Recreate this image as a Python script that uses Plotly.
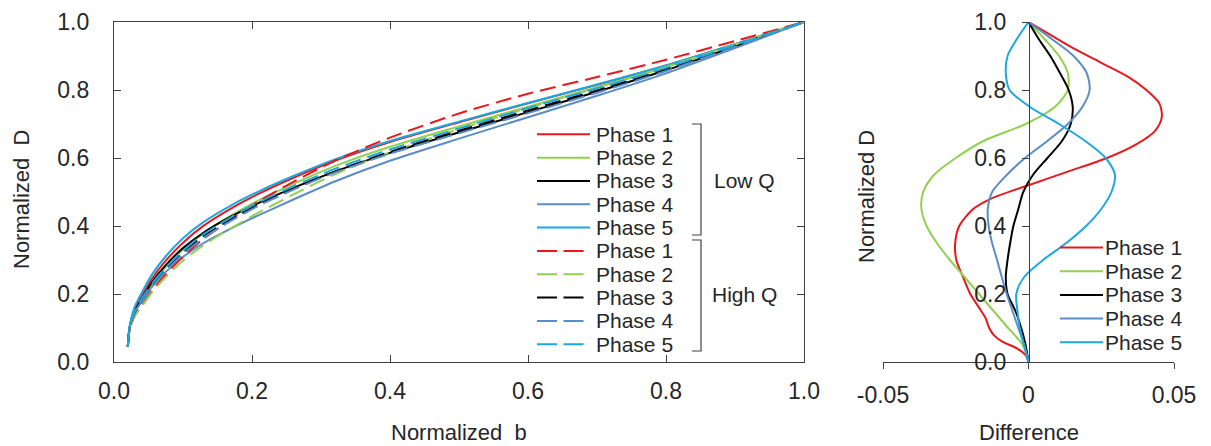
import plotly.graph_objects as go

# ---------------- data ----------------
phases = ["Phase 1", "Phase 2", "Phase 3", "Phase 4", "Phase 5"]
colors = ["#E8191E", "#92D050", "#000000", "#5A8CC6", "#1BA8E0"]

# Left panel: Normalized b (x) vs Normalized D (y)
b_grid = [0.020, 0.023, 0.030, 0.040, 0.055, 0.075, 0.10, 0.13, 0.17, 0.21,
          0.26, 0.32, 0.40, 0.50, 0.60, 0.70, 0.80, 0.90, 1.00]

lowq_D = [
    [0.045, 0.105, 0.155, 0.193, 0.245, 0.298, 0.351, 0.401, 0.452, 0.495, 0.542, 0.592, 0.647, 0.705, 0.761, 0.815, 0.872, 0.935, 1.0],  # Phase 1
    [0.045, 0.105, 0.147, 0.180, 0.229, 0.279, 0.330, 0.379, 0.431, 0.476, 0.524, 0.576, 0.633, 0.693, 0.751, 0.808, 0.867, 0.933, 1.0],  # Phase 2
    [0.045, 0.105, 0.150, 0.185, 0.235, 0.285, 0.335, 0.381, 0.428, 0.468, 0.512, 0.560, 0.615, 0.675, 0.735, 0.795, 0.858, 0.928, 1.0],  # Phase 3
    [0.045, 0.105, 0.146, 0.177, 0.221, 0.265, 0.309, 0.350, 0.393, 0.432, 0.478, 0.531, 0.592, 0.657, 0.720, 0.783, 0.849, 0.923, 1.0],  # Phase 4
    [0.045, 0.110, 0.162, 0.203, 0.257, 0.311, 0.364, 0.412, 0.461, 0.502, 0.547, 0.596, 0.650, 0.707, 0.762, 0.816, 0.872, 0.935, 1.0],  # Phase 5
]
highq_D = [
    [0.045, 0.100, 0.135, 0.165, 0.210, 0.258, 0.310, 0.363, 0.420, 0.473, 0.530, 0.592, 0.660, 0.731, 0.789, 0.838, 0.889, 0.944, 1.0],  # Phase 1
    [0.045, 0.100, 0.135, 0.163, 0.205, 0.250, 0.298, 0.344, 0.394, 0.440, 0.493, 0.552, 0.617, 0.685, 0.747, 0.807, 0.868, 0.934, 1.0],  # Phase 2
    [0.045, 0.105, 0.145, 0.177, 0.225, 0.273, 0.323, 0.371, 0.420, 0.463, 0.510, 0.560, 0.618, 0.680, 0.740, 0.799, 0.861, 0.930, 1.0],  # Phase 3
    [0.045, 0.105, 0.145, 0.175, 0.220, 0.267, 0.317, 0.365, 0.416, 0.460, 0.507, 0.557, 0.613, 0.673, 0.732, 0.792, 0.856, 0.927, 1.0],  # Phase 4
    [0.045, 0.108, 0.152, 0.185, 0.230, 0.277, 0.327, 0.376, 0.426, 0.470, 0.517, 0.568, 0.625, 0.687, 0.747, 0.805, 0.865, 0.932, 1.0],  # Phase 5
]

# Right panel: Difference (x) vs Normalized D (y)
D_p1 = [0, 0.02, 0.04, 0.06, 0.08, 0.10, 0.13, 0.16, 0.20, 0.25, 0.30, 0.35, 0.40, 0.45,
        0.48, 0.52, 0.56, 0.60, 0.64, 0.68, 0.72, 0.76, 0.80, 0.84, 0.88, 0.92, 0.96, 1.0]
diff_p1 = [0, -0.001, -0.004, -0.009, -0.012, -0.0135, -0.0148, -0.017, -0.020, -0.0225, -0.0248, -0.0252, -0.0238, -0.019,
           -0.013, 0.0, 0.0135, 0.027, 0.037, 0.0435, 0.0458, 0.045, 0.0405, 0.034, 0.025, 0.016, 0.008, 0]
D_common = [0, 0.05, 0.10, 0.15, 0.20, 0.25, 0.30, 0.35, 0.40, 0.45, 0.50,
            0.55, 0.60, 0.65, 0.70, 0.75, 0.80, 0.85, 0.90, 0.95, 1.0]
diff_p2 = [0, -0.002, -0.007, -0.012, -0.017, -0.022, -0.027, -0.0315, -0.035, -0.0368, -0.0362,
           -0.0325, -0.025, -0.0155, -0.001, 0.009, 0.0135, 0.0135, 0.0105, 0.0055, 0]
diff_p3 = [0, -0.001, -0.0025, -0.0045, -0.0072, -0.0078, -0.0072, -0.0063, -0.0052, -0.0035, -0.0018,
           0.0015, 0.0065, 0.0115, 0.0145, 0.0152, 0.0138, 0.0108, 0.0075, 0.0035, 0]
diff_p4 = [0, -0.0015, -0.0035, -0.0055, -0.0075, -0.0092, -0.0108, -0.0125, -0.0137, -0.014, -0.0125,
           -0.0075, -0.0012, 0.0065, 0.0135, 0.0185, 0.021, 0.020, 0.0155, 0.008, 0]
diff_p5 = [0, -0.0015, -0.003, -0.0038, -0.0042, -0.0015, 0.005, 0.013, 0.0198, 0.025, 0.0285,
           0.0297, 0.0265, 0.0195, 0.0105, 0.0005, -0.0065, -0.0078, -0.0072, -0.004, 0]
diff_D = [D_p1, D_common, D_common, D_common, D_common]
diff_vals = [diff_p1, diff_p2, diff_p3, diff_p4, diff_p5]

x_ticks = [0.0, 0.2, 0.4, 0.6, 0.8, 1.0]
diff_ticks = [-0.05, 0, 0.05]
diff_ticktext = ["-0.05", "0", "0.05"]

# ---------------- figure ----------------
W, H = 1211, 446
FONT = "Liberation Sans, Arial, sans-serif"
TXT = "#262626"
AX = "#404040"

def px(x):
    return x / W

def py(y):
    return 1 - y / H

fig = go.Figure()

for i, name in enumerate(phases):
    fig.add_trace(go.Scatter(x=b_grid, y=lowq_D[i], mode="lines", name=name,
                             line=dict(color=colors[i], width=2, shape="spline", smoothing=0.7),
                             showlegend=False, xaxis="x", yaxis="y"))
for i, name in enumerate(phases):
    fig.add_trace(go.Scatter(x=b_grid, y=highq_D[i], mode="lines", name=name,
                             line=dict(color=colors[i], width=2, dash="16px,7px", shape="spline", smoothing=0.7),
                             showlegend=False, xaxis="x", yaxis="y"))
for i, name in enumerate(phases):
    fig.add_trace(go.Scatter(x=diff_vals[i], y=diff_D[i], mode="lines", name=name,
                             line=dict(color=colors[i], width=2, shape="spline", smoothing=0.8),
                             showlegend=False, xaxis="x2", yaxis="y2"))

y_dom = [py(362), py(22)]
tickfont = dict(family=FONT, size=23, color=TXT)
fig.update_layout(
    template="none",
    width=W, height=H, autosize=False,
    margin=dict(l=0, r=0, t=0, b=0, pad=0),
    paper_bgcolor="white", plot_bgcolor="white",
    font=dict(family=FONT, size=22, color=TXT),
    showlegend=False,
    xaxis=dict(domain=[px(114), px(804)], range=[0, 1], tickvals=x_ticks, tickformat=".1f",
               showline=True, linecolor=AX, linewidth=1.2, mirror="ticks",
               ticks="inside", ticklen=7, tickcolor=AX, showgrid=False, zeroline=False,
               ticklabelstandoff=8, anchor="y", automargin=False, tickfont=tickfont),
    yaxis=dict(domain=y_dom, range=[0, 1], tickvals=x_ticks, tickformat=".1f",
               showline=True, linecolor=AX, linewidth=1.2, mirror="ticks",
               ticks="inside", ticklen=7, tickcolor=AX, showgrid=False, zeroline=False,
               ticklabelstandoff=19, anchor="x", automargin=False, tickfont=tickfont),
    xaxis2=dict(domain=[px(883), px(1174)], range=[-0.05, 0.05], tickvals=diff_ticks, ticktext=diff_ticktext,
                showline=True, linecolor=AX, linewidth=1.2, ticks="outside", ticklen=6, tickcolor=AX,
                showgrid=False, zeroline=False, anchor="y2", ticklabelstandoff=6, automargin=False,
                tickfont=tickfont),
    yaxis2=dict(domain=y_dom, range=[0, 1], tickvals=x_ticks, tickformat=".1f",
                showline=True, linecolor=AX, linewidth=1.2, ticks="outside", ticklen=7, tickcolor=AX,
                showgrid=False, zeroline=False, anchor="free", position=px(1029), ticklabelstandoff=11,
                automargin=False, tickfont=tickfont),
)

shapes = []
annotations = []

# Left legend (manual, to match the compact row spacing)
row0, step = 134.3, 23.33
for k in range(10):
    yy = row0 + k * step
    i = k % 5
    if k < 5:
        shapes.append(dict(type="line", xref="paper", yref="paper", x0=px(537), x1=px(590),
                           y0=py(yy), y1=py(yy), line=dict(color=colors[i], width=2)))
    else:
        shapes.append(dict(type="line", xref="paper", yref="paper", x0=px(537), x1=px(583.5),
                           y0=py(yy), y1=py(yy), line=dict(color=colors[i], width=2, dash="20px,6.5px")))
    annotations.append(dict(text=phases[i], xref="paper", yref="paper", x=px(594), y=py(yy),
                            xanchor="left", yanchor="middle", showarrow=False,
                            font=dict(size=21, color=TXT)))

# Brackets
for (t, bt) in [(124, 235), (240, 351)]:
    shapes.append(dict(type="path", xref="paper", yref="paper",
                       path=f"M {px(692)},{py(t)} L {px(701)},{py(t)} L {px(701)},{py(bt)} L {px(692)},{py(bt)}",
                       line=dict(color=AX, width=1.2)))
annotations.append(dict(text="Low Q", xref="paper", yref="paper", x=px(744), y=py(181),
                        xanchor="center", yanchor="middle", showarrow=False, font=dict(size=21, color=TXT)))
annotations.append(dict(text="High Q", xref="paper", yref="paper", x=px(744), y=py(294),
                        xanchor="center", yanchor="middle", showarrow=False, font=dict(size=21, color=TXT)))

# Right legend
r0, rstep = 247.5, 23.7
for i in range(5):
    yy = r0 + i * rstep
    shapes.append(dict(type="line", xref="paper", yref="paper", x0=px(1060), x1=px(1103),
                       y0=py(yy), y1=py(yy), line=dict(color=colors[i], width=2)))
    annotations.append(dict(text=phases[i], xref="paper", yref="paper", x=px(1103), y=py(yy),
                            xanchor="left", yanchor="middle", showarrow=False,
                            font=dict(size=21, color=TXT)))

# Axis titles
annotations += [
    dict(text="Normalized\u00a0 b", xref="paper", yref="paper", x=px(459), y=py(432),
         xanchor="center", yanchor="middle", showarrow=False, font=dict(size=22, color=TXT)),
    dict(text="Normalized\u00a0 D", xref="paper", yref="paper", x=px(22), y=py(200), textangle=-90,
         xanchor="center", yanchor="middle", showarrow=False, font=dict(size=22, color=TXT)),
    dict(text="Difference", xref="paper", yref="paper", x=px(1029), y=py(432),
         xanchor="center", yanchor="middle", showarrow=False, font=dict(size=22, color=TXT)),
    dict(text="Normalized D", xref="paper", yref="paper", x=px(866), y=py(197), textangle=-90,
         xanchor="center", yanchor="middle", showarrow=False, font=dict(size=22, color=TXT)),
]

fig.update_layout(shapes=shapes, annotations=annotations)
fig.write_html("out.html", config={"displayModeBar": False},
               post_script="document.body.style.margin='0';document.body.style.padding='0';document.body.style.overflow='hidden';")
